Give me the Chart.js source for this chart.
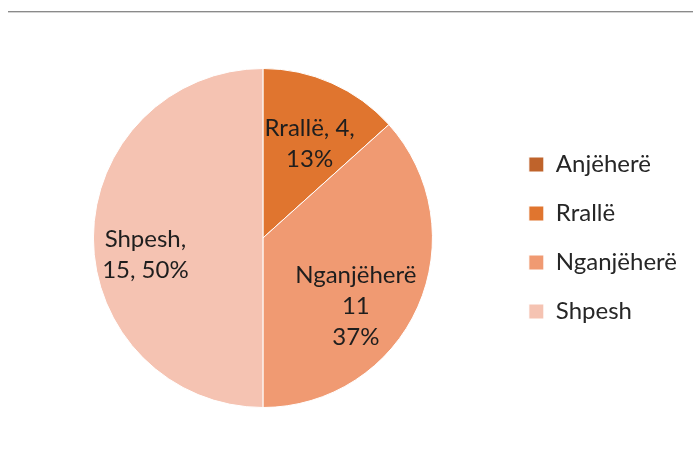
<!DOCTYPE html>
<html>
<head>
<meta charset="utf-8">
<script src="https://cdn.jsdelivr.net/npm/chart.js@4"></script>
<style>
    html, body { margin: 0; padding: 0; background: #fff; }
    #wrap { position: relative; width: 693px; height: 462px; }
    #topLine { position: absolute; left: 8px; right: 0; top: 11px; height: 1px; background: #8a8a8a; border-bottom: 1px solid #d4d4d4; }
</style>
</head>
<body>
<div id="wrap">
    <div id="topLine"></div>
    <canvas id="pieChart" width="693" height="462"></canvas>
</div>
<script>
var categories = ['Anjëherë', 'Rrallë', 'Nganjëherë', 'Shpesh'];
var values = [0, 4, 11, 15];
var colors = ['#BF632B', '#E0752F', '#F09A72', '#F5C3B2'];

// how each slice label is split into lines ({l}=label, {v}=value, {p}=percent)
var labelLines = [
    [],
    ['{l}, {v},', '{p}%'],
    ['{l}', '{v}', '{p}%'],
    ['{l},', '{v}, {p}%']
];
// where the label sits inside its slice: fraction of the angle, fraction of the radius
var labelAngleFrac = [0.5, 0.55, 0.593, 0.456];
var labelRadiusFrac = [0.6, 0.62, 0.68, 0.70];

var sliceLabels = {
    id: 'sliceLabels',
    afterDatasetsDraw: function (chart) {
        var ctx = chart.ctx;
        var meta = chart.getDatasetMeta(0);
        var total = values.reduce(function (a, b) { return a + b; }, 0);
        ctx.save();
        ctx.font = '24px Lato';
        ctx.fillStyle = '#1e1e1e';
        ctx.textAlign = 'center';
        ctx.textBaseline = 'middle';
        meta.data.forEach(function (arc, i) {
            if (!values[i]) return;
            var p = arc.getProps(['x', 'y', 'startAngle', 'endAngle', 'outerRadius'], true);
            var a = p.startAngle + (p.endAngle - p.startAngle) * labelAngleFrac[i];
            var r = p.outerRadius * labelRadiusFrac[i];
            var cx = p.x + Math.cos(a) * r;
            var cy = p.y + Math.sin(a) * r;
            var pct = Math.round(values[i] / total * 100);
            var lines = labelLines[i].map(function (t) {
                return t.replace('{l}', categories[i]).replace('{v}', values[i]).replace('{p}', pct);
            });
            var lh = 31;
            var y0 = cy - (lines.length - 1) * lh / 2;
            lines.forEach(function (t, k) {
                ctx.fillText(t, cx, y0 + k * lh);
            });
        });
        ctx.restore();
    }
};

var ctx = document.getElementById('pieChart').getContext('2d');
var chart = new Chart(ctx, {
    type: 'pie',
    data: {
        labels: categories,
        datasets: [{
            data: values,
            backgroundColor: colors,
            borderColor: '#ffffff',
            borderWidth: 1
        }]
    },
    options: {
        responsive: false,
        animation: false,
        layout: {
            padding: { left: 22, right: 6, top: 68, bottom: 54 }
        },
        plugins: {
            legend: {
                position: 'right',
                labels: {
                    boxWidth: 15,
                    boxHeight: 15,
                    padding: 25,
                    color: '#262626',
                    font: { family: 'Lato', size: 24 }
                }
            },
            tooltip: { enabled: false }
        }
    },
    plugins: [sliceLabels]
});
</script>
</body>
</html>
